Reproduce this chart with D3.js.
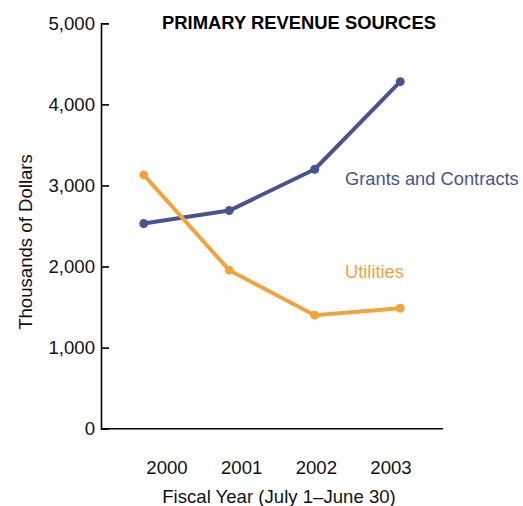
<!DOCTYPE html>
<html>
<head>
<meta charset="utf-8">
<script src="https://cdn.jsdelivr.net/npm/d3@7"></script>
<style>
  body { margin: 0; background: #fff; }
  text { font-family: "Liberation Sans", Arial, sans-serif; }
</style>
</head>
<body>
<script>
"use strict";

// data
const years = ["2000", "2001", "2002", "2003"];
const grants = [2530, 2690, 3200, 4280];
const utilities = [3130, 1955, 1400, 1485];
const yTicks = [0, 1000, 2000, 3000, 4000, 5000];

const W = 523, H = 506;
const plotLeft = 101, plotRight = 443, plotTop = 23.3, plotBottom = 428.7;
const fs = 18.6;

let svg = d3.select("body").append("svg")
	.attr("width", W)
	.attr("height", H);

let x = d3.scalePoint().domain(years).range([plotLeft, plotRight]).padding(0.5);
//the year labels sit on a tighter spacing than the points in the original
let xLabel = d3.scalePoint().domain(years).range([167, 391]);
let y = d3.scaleLinear().domain([0, 5000]).range([plotBottom, plotTop]);

//y axis, ticks point inward
let yAxis = svg.append("g")
	.attr("transform", "translate(" + plotLeft + ",0)")
	.call(d3.axisRight(y).tickValues(yTicks).tickSize(8).tickFormat(d3.format(",")));
yAxis.select(".domain").attr("stroke", "#000").attr("stroke-width", 1.6);
yAxis.selectAll(".tick line").attr("stroke", "#000").attr("stroke-width", 1.6);
yAxis.selectAll(".tick text")
	.attr("x", -6)
	.attr("text-anchor", "end")
	.attr("font-size", fs)
	.attr("font-family", "Liberation Sans, Arial, sans-serif")
	.attr("fill", "#111");

//x axis, just a baseline and labels
svg.append("line")
	.attr("x1", plotLeft).attr("x2", plotRight)
	.attr("y1", plotBottom).attr("y2", plotBottom)
	.attr("stroke", "#000").attr("stroke-width", 1.6);
svg.append("g").selectAll("text")
	.data(years)
	.join("text")
	.attr("x", d => xLabel(d))
	.attr("y", 474)
	.attr("text-anchor", "middle")
	.attr("font-size", fs)
	.attr("fill", "#111")
	.text(d => d);

svg.append("text")
	.attr("x", 279).attr("y", 503)
	.attr("text-anchor", "middle")
	.attr("font-size", fs)
	.attr("fill", "#111")
	.text("Fiscal Year (July 1\u2013June 30)");

svg.append("text")
	.attr("transform", "translate(32,242) rotate(-90)")
	.attr("text-anchor", "middle")
	.attr("font-size", fs)
	.attr("fill", "#111")
	.text("Thousands of Dollars");

svg.append("text")
	.attr("x", 299).attr("y", 29)
	.attr("text-anchor", "middle")
	.attr("font-size", 18.4)
	.attr("font-weight", "bold")
	.attr("fill", "#000")
	.text("PRIMARY REVENUE SOURCES");

let line = d3.line()
	.x(function(d, i) { return x(years[i]); })
	.y(function(d) { return y(d); });

let series = [
	{ name: "Grants and Contracts", values: grants, color: "#46558c", lx: 345, ly: 185 },
	{ name: "Utilities", values: utilities, color: "#f0a43e", lx: 345, ly: 278 }
];

series.forEach(function(s) {
	svg.append("path")
		.attr("d", line(s.values))
		.attr("fill", "none")
		.attr("stroke", s.color)
		.attr("stroke-width", 4)
		.attr("stroke-linejoin", "round");
	svg.append("g").selectAll("circle")
		.data(s.values)
		.join("circle")
		.attr("cx", (d, i) => x(years[i]))
		.attr("cy", d => y(d))
		.attr("r", 4.5)
		.attr("fill", s.color);
	svg.append("text")
		.attr("x", s.lx).attr("y", s.ly)
		.attr("font-size", 18.3)
		.attr("fill", s.color)
		.text(s.name);
});
</script>
</body>
</html>
